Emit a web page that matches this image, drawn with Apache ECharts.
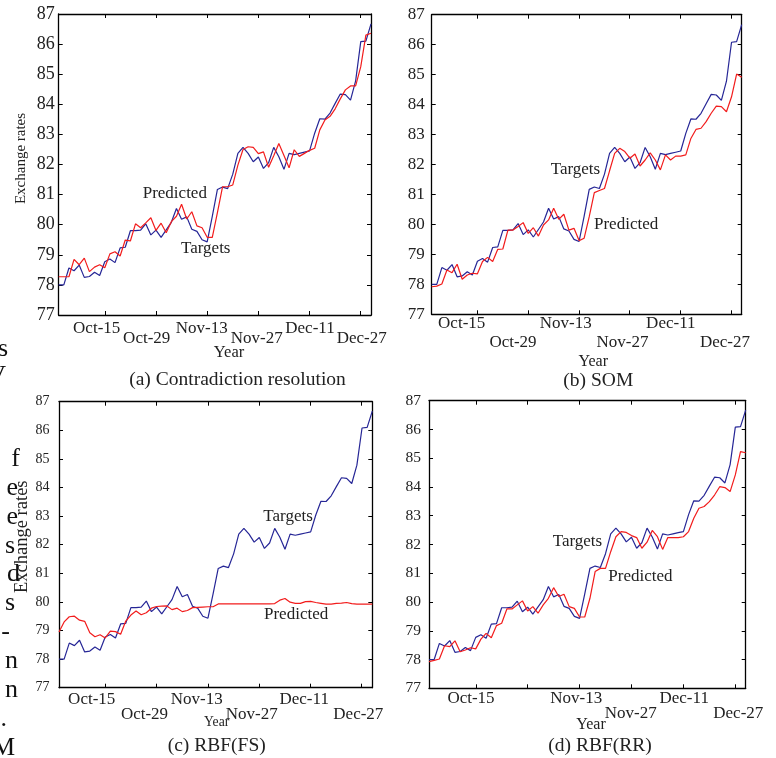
<!DOCTYPE html>
<html><head><meta charset="utf-8">
<script src="https://cdn.jsdelivr.net/npm/echarts@6/dist/echarts.min.js"></script>
<style>html,body{margin:0;padding:0;background:#fff}#c{width:776px;height:758px}</style>
</head><body><div id="c"></div>
<script>
// ---------- data ----------
const tickLabels = ['Oct-15', 'Oct-29', 'Nov-13', 'Nov-27', 'Dec-11', 'Dec-27'];
const tickPositions = [9.05, 19.0, 29.0, 38.95, 48.95, 58.9];
const yMin = 77, yMax = 87, yStep = 1;

const targets = [78.00, 78.00, 78.56, 78.47, 78.66, 78.25, 78.28, 78.42, 78.31, 78.77,
  78.86, 78.74, 79.23, 79.25, 79.80, 79.80, 79.82, 80.03, 79.66, 79.82,
  79.58, 79.83, 80.08, 80.54, 80.18, 80.26, 79.85, 79.78, 79.50, 79.43,
  80.28, 81.17, 81.25, 81.20, 81.68, 82.37, 82.57, 82.37, 82.09, 82.25,
  81.87, 82.06, 82.57, 82.26, 81.84, 82.37, 82.33, 82.37, 82.41, 82.45,
  83.04, 83.52, 83.51, 83.71, 84.03, 84.34, 84.32, 84.14, 84.78, 86.08,
  86.10, 86.67];

const predictedCR = [78.27, 78.27, 78.27, 78.85, 78.67, 78.89, 78.44, 78.59, 78.67, 78.57,
  79.03, 79.10, 78.96, 79.49, 79.46, 80.03, 79.90, 80.06, 80.23, 79.81,
  80.05, 79.73, 80.10, 80.28, 80.68, 80.19, 80.43, 79.96, 79.90, 79.58,
  79.58, 80.40, 81.26, 81.26, 81.32, 81.98, 82.50, 82.59, 82.57, 82.36,
  82.42, 81.91, 82.29, 82.70, 82.30, 81.89, 82.49, 82.27, 82.37, 82.47,
  82.54, 83.15, 83.48, 83.60, 83.85, 84.18, 84.48, 84.61, 84.61, 85.25,
  86.30, 86.36];

const predictedSOM = [77.92, 77.94, 78.01, 78.48, 78.39, 78.67, 78.17, 78.31, 78.37, 78.35,
  78.76, 78.90, 78.76, 79.17, 79.18, 79.81, 79.81, 79.93, 80.06, 79.70,
  79.89, 79.61, 79.98, 80.15, 80.54, 80.17, 80.34, 79.81, 79.87, 79.46,
  79.54, 80.26, 81.06, 81.13, 81.20, 81.79, 82.37, 82.54, 82.43, 82.21,
  82.35, 81.95, 82.15, 82.39, 82.15, 81.82, 82.32, 82.15, 82.28, 82.28,
  82.32, 82.87, 83.17, 83.21, 83.43, 83.71, 83.95, 83.93, 83.76, 84.26,
  85.02, 84.91];

const predictedFS = [78.95, 79.30, 79.48, 79.50, 79.36, 79.32, 78.92, 78.78, 78.85, 78.74,
  78.98, 78.96, 78.87, 79.33, 79.54, 79.68, 79.55, 79.62, 79.78, 79.84,
  79.85, 79.86, 79.73, 79.78, 79.66, 79.70, 79.80, 79.81, 79.82, 79.83,
  79.83, 79.93, 79.93, 79.93, 79.93, 79.93, 79.93, 79.93, 79.93, 79.93,
  79.93, 79.93, 79.94, 80.06, 80.12, 79.99, 79.95, 79.95, 80.01, 80.02,
  79.98, 79.95, 79.92, 79.92, 79.95, 79.96, 79.98, 79.94, 79.92, 79.92,
  79.92, 79.92];

const predictedRR = [77.93, 77.97, 78.02, 78.48, 78.45, 78.65, 78.27, 78.33, 78.41, 78.37,
  78.71, 78.91, 78.76, 79.18, 79.26, 79.76, 79.76, 79.90, 80.04, 79.69,
  79.84, 79.61, 79.90, 80.13, 80.50, 80.19, 80.27, 79.84, 79.78, 79.48,
  79.48, 80.13, 81.06, 81.17, 81.17, 81.75, 82.27, 82.45, 82.42, 82.31,
  82.24, 81.87, 82.08, 82.49, 82.27, 81.83, 82.24, 82.24, 82.24, 82.27,
  82.45, 82.91, 83.26, 83.32, 83.49, 83.72, 84.01, 83.98, 83.84, 84.42,
  85.23, 85.19];

const panelTitles = ['(a) Contradiction resolution', '(b) SOM', '(c) RBF(FS)', '(d) RBF(RR)'];
const predictedSets = [predictedCR, predictedSOM, predictedFS, predictedRR];
const yAxisName = 'Exchange rates';
const xAxisName = 'Year';
const targetName = 'Targets';
const predictedName = 'Predicted';
const strayGlyphsA = ['s', 'V'];
const strayGlyphsC = ['f', 'e', 'e', 's', 'd', 's', '-', 'n', 'n', '.', 'M'];

// ---------- layout / style ----------
const FONT = 'Liberation Serif';
const TXT = '#222';
const BLUE = '#262696';
const RED = '#f21c1c';
const panels = [
  {left: 58.7, top: 14, width: 312.3, height: 301, yFont: 18, yMargin: 4, yName: true, yNameSize: 15, yNameGap: 30, yNameShift: 12,
   labelPos: [7.42, 17.19, 27.93, 38.67, 49.08, 59.18], xMargin: 5, dy: 10,
   title: [237.5, 380], year: [229, 353, 16.5], tgt: [181, 249], prd: [142.7, 194]},
  {left: 431.7, top: 14.7, width: 310, height: 299.6, yFont: 17, yMargin: 7, yName: false,
   labelPos: [5.90, 16.0, 26.39, 37.54, 47.05, 57.71], xMargin: 1, dy: 19,
   title: [598.3, 381], year: [593.3, 361.7, 16], tgt: [550.7, 170], prd: [594, 225]},
  {left: 59, top: 401.7, width: 313.3, height: 286, yFont: 14, yMargin: 9.5, yName: true, yNameSize: 18.5, yNameGap: 21, yNameShift: 16,
   labelPos: [6.37, 16.65, 26.81, 37.52, 47.74, 58.28], xMargin: 3.5, dy: 15,
   title: [216.7, 746], year: [216.7, 722.5, 13.7], tgt: [263.3, 516.7], prd: [264, 615]},
  {left: 429, top: 400.7, width: 316.7, height: 287.6, yFont: 15.5, yMargin: 8, yName: false,
   labelPos: [8.09, 16.89, 28.37, 38.87, 49.15, 59.57], xMargin: 2, dy: 15,
   title: [600, 746], year: [591, 724.3, 16], tgt: [552.7, 541.7], prd: [608.3, 576.7]}
];

const grids = [], xAxes = [], yAxes = [], series = [], graphics = [];
const axisLine = {show: true, onZero: false, lineStyle: {color: '#000', width: 1.3}};

panels.forEach((p, k) => {
  grids.push({left: p.left, top: p.top, width: p.width, height: p.height, show: false});
  const labelFmt = (val) => {
    let best = 0, bd = 1e9;
    p.labelPos.forEach((v, j) => { const d = Math.abs(v - val); if (d < bd) { bd = d; best = j; } });
    return (best % 2 ? '{l|' : '{u|') + tickLabels[best] + '}';
  };
  xAxes.push({
    type: 'value', gridIndex: k, min: 0, max: targets.length - 1, position: 'bottom',
    axisLine: axisLine,
    axisTick: {show: true, inside: true, length: 4, customValues: tickPositions, lineStyle: {color: '#000', width: 1}},
    axisLabel: {show: true, customValues: p.labelPos, margin: p.xMargin, formatter: labelFmt,
      showMinLabel: true, showMaxLabel: true, hideOverlap: false,
      rich: {
        u: {fontFamily: FONT, fontSize: 17, color: TXT},
        l: {fontFamily: FONT, fontSize: 17, color: TXT, padding: [p.dy, 0, 0, 0]}
      }},
    splitLine: {show: false}
  });
  xAxes.push({
    type: 'value', gridIndex: k, min: 0, max: targets.length - 1, position: 'top',
    axisLine: axisLine,
    axisTick: {show: true, inside: true, length: 4, customValues: tickPositions, lineStyle: {color: '#000', width: 1}},
    axisLabel: {show: false}, splitLine: {show: false}
  });
  const yl = {
    type: 'value', gridIndex: k, min: yMin, max: yMax, interval: yStep, position: 'left',
    axisLine: axisLine,
    axisTick: {show: true, inside: true, length: 4, lineStyle: {color: '#000', width: 1}},
    axisLabel: {fontFamily: FONT, fontSize: p.yFont, color: TXT, margin: p.yMargin, showMinLabel: true, showMaxLabel: true},
    splitLine: {show: false}
  };
  if (p.yName) {
    yl.name = yAxisName; yl.nameLocation = 'middle'; yl.nameGap = p.yNameGap;
    yl.nameTextStyle = {fontFamily: FONT, fontSize: p.yNameSize, color: TXT, padding: [0, 0, 0, p.yNameShift]};
  }
  yAxes.push(yl);
  yAxes.push({
    type: 'value', gridIndex: k, min: yMin, max: yMax, interval: yStep, position: 'right',
    axisLine: axisLine,
    axisTick: {show: true, inside: true, length: 4, lineStyle: {color: '#000', width: 1}},
    axisLabel: {show: false}, splitLine: {show: false}
  });
  series.push({
    name: targetName, type: 'line', xAxisIndex: 2 * k, yAxisIndex: 2 * k,
    data: targets.map((v, i) => [i, v]), symbol: 'none', silent: true,
    lineStyle: {color: BLUE, width: 1.2}, z: 3
  });
  series.push({
    name: predictedName, type: 'line', xAxisIndex: 2 * k, yAxisIndex: 2 * k,
    data: predictedSets[k].map((v, i) => [i, v]), symbol: 'none', silent: true,
    lineStyle: {color: RED, width: 1.2}, z: 4
  });
  const txt = (x, y, text, size, align) => ({
    type: 'text', x: x, y: y, silent: true,
    style: {text: text, fill: TXT, fontFamily: FONT, fontSize: size, align: align || 'center', verticalAlign: 'middle'}
  });
  graphics.push(txt(p.title[0], p.title[1], panelTitles[k], 19.5));
  graphics.push(txt(p.year[0], p.year[1], xAxisName, p.year[2]));
  graphics.push(txt(p.tgt[0], p.tgt[1], targetName, 17, 'left'));
  graphics.push(txt(p.prd[0], p.prd[1], predictedName, 17, 'left'));
});

// fragments of surrounding page text at the left edge (vertical centres)
const strayA = [[8, 349], [6, 376]];
strayGlyphsA.forEach((g, i) => graphics.push({type: 'text', x: strayA[i][0], y: strayA[i][1], silent: true,
  style: {text: g, fill: '#111', fontFamily: FONT, fontSize: 26, align: 'right', verticalAlign: 'middle'}}));
const strayCRight = [20, 18, 18, 15, 20, 15, 10, 18, 18, 7, 15];
strayGlyphsC.forEach((g, i) => graphics.push({type: 'text', x: strayCRight[i], y: 459 + 28.9 * i, silent: true,
  style: {text: g, fill: '#111', fontFamily: FONT, fontSize: 26, align: 'right', verticalAlign: 'middle'}}));

const chart = echarts.init(document.getElementById('c'), null, {renderer: 'canvas'});
chart.setOption({
  animation: false,
  backgroundColor: '#fff',
  grid: grids, xAxis: xAxes, yAxis: yAxes, series: series, graphic: graphics
});
</script></body></html>
